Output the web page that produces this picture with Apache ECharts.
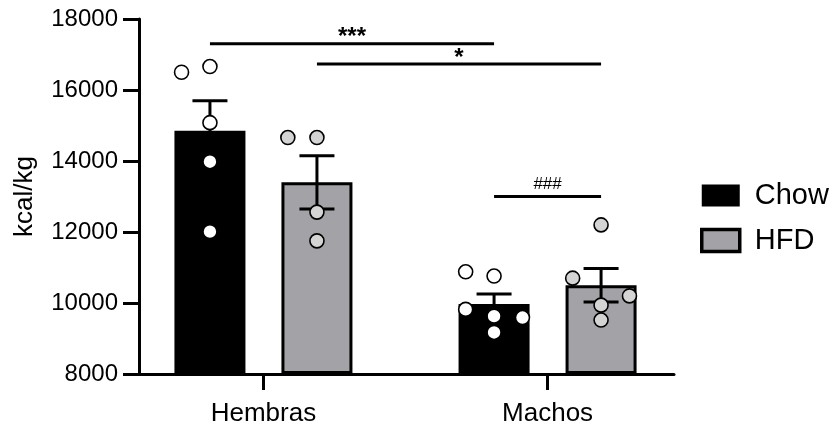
<!DOCTYPE html>
<html>
<head>
<meta charset="utf-8">
<script src="https://cdn.jsdelivr.net/npm/echarts@6/dist/echarts.min.js"></script>
<style>
  html, body { margin: 0; padding: 0; background: #fff; }
  #chart { width: 836px; height: 427px; }
</style>
</head>
<body>
<div id="chart"></div>
<script>
// Energy intake (kcal/kg) by sex and diet: mean ± SEM with individual animals
const categories = ['Hembras', 'Machos'];
const seriesNames = ['Chow', 'HFD'];

const chowMean = [14850, 9975];
const chowSem = [850, 280];
const hfdMean = [13400, 10500];
const hfdSem = [750, 470];

const chowPoints = [
  [16500, 16660, 15080, 13980, 12010],
  [10880, 10760, 9820, 9630, 9590, 9170]
];
const hfdPoints = [
  [14660, 14660, 12560, 11750],
  [12200, 10700, 10200, 9940, 9520]
];
// sideways spread of each dot, as a fraction of the bar width
const chowSpread = [
  [-0.4, 0, 0, 0, 0],
  [-0.4, 0, -0.4, 0, 0.4, 0]
];
const hfdSpread = [
  [-0.41, 0, 0, 0],
  [0, -0.4, 0.4, 0, 0]
];

const yMin = 8000, yMax = 18000, yStep = 2000;
const yTitle = 'kcal/kg';

// significance brackets: [category, series] at each end, height, mark
const brackets = [
  { from: [0, 0], to: [1, 0], y: 17300, text: '***' },
  { from: [0, 1], to: [1, 1], y: 16730, text: '*' },
  { from: [1, 0], to: [1, 1], y: 13000, text: '###' }
];

const FONT = "'Liberation Sans', Arial, Helvetica, sans-serif";
const BAR_W = 71;
const BAR_GAP = 36;
const PITCH = BAR_W + BAR_GAP;
const CAP = 35;
const colors = { Chow: '#000000', HFD: '#a3a3a7' };
const dotFill = { Chow: '#ffffff', HFD: '#d4d4d4' };

function barCenterX(api, cat, s, yv) {
  const c = api.coord([cat, yv]);
  return c[0] + (s - 0.5) * PITCH;
}

const barSeries = seriesNames.map((name, s) => ({
  name: name,
  type: 'bar',
  barWidth: BAR_W,
  barGap: (BAR_GAP / BAR_W * 100) + '%',
  z: 2,
  itemStyle: {
    color: colors[name],
    borderColor: '#000',
    borderWidth: 3
  },
  data: (s === 0 ? chowMean : hfdMean).map((v, i) => [i, v])
}));

const errData = [];
[chowMean, hfdMean].forEach((means, s) => {
  const sems = s === 0 ? chowSem : hfdSem;
  means.forEach((m, i) => errData.push([i, m, sems[i], s]));
});

const dotData = [];
[chowPoints, hfdPoints].forEach((groups, s) => {
  const spread = s === 0 ? chowSpread : hfdSpread;
  groups.forEach((vals, i) => {
    vals.forEach((v, k) => dotData.push([i, v, s, spread[i][k]]));
  });
});

const bracketData = brackets.map(b => [b.from[0], b.from[1], b.to[0], b.to[1], b.y, b.text]);

const option = {
  animation: false,
  backgroundColor: '#fff',
  textStyle: { fontFamily: FONT, color: '#000' },
  grid: { left: 139, right: 162, top: 19, bottom: 53, outerBoundsMode: 'none' },
  legend: {
    orient: 'vertical',
    left: 695,
    top: 176,
    itemWidth: 38,
    itemHeight: 22,
    itemGap: 16,
    icon: 'rect',
    selectedMode: false,
    textStyle: { fontSize: 29, color: '#000', fontFamily: FONT, padding: [0, 0, 0, 10] },
    data: [
      { name: 'Chow', itemStyle: { color: colors.Chow, borderWidth: 0 } },
      { name: 'HFD', itemStyle: { color: colors.HFD, borderColor: '#000', borderWidth: 3.5 } }
    ]
  },
  xAxis: {
    type: 'value',
    min: -0.438,
    max: 1.445,
    splitLine: { show: false },
    axisLine: { show: true, onZero: false, lineStyle: { color: '#000', width: 3 } },
    axisTick: { show: true, length: 16, customValues: [0, 1], lineStyle: { color: '#000', width: 3 } },
    axisLabel: {
      customValues: [0, 1],
      formatter: v => categories[Math.round(v)],
      fontSize: 26,
      color: '#000',
      fontFamily: FONT,
      margin: 27
    }
  },
  yAxis: {
    type: 'value',
    min: yMin,
    max: yMax,
    interval: yStep,
    startValue: yMin,
    name: yTitle,
    nameLocation: 'middle',
    nameGap: 101,
    nameTextStyle: { fontSize: 26, color: '#000', fontFamily: FONT },
    splitLine: { show: false },
    axisLine: { show: true, onZero: false, lineStyle: { color: '#000', width: 3 } },
    axisTick: { show: true, length: 16, lineStyle: { color: '#000', width: 3 } },
    axisLabel: {
      formatter: v => String(v),
      fontSize: 24,
      color: '#000',
      fontFamily: FONT,
      margin: 21
    }
  },
  series: [
    ...barSeries,
    {
      type: 'custom',
      name: 'sem',
      z: 3,
      clip: false,
      silent: true,
      data: errData,
      renderItem: (params, api) => {
        const cat = api.value(0), m = api.value(1), e = api.value(2), s = api.value(3);
        const x = barCenterX(api, cat, s, m);
        const top = api.coord([cat, m + e])[1];
        const bot = api.coord([cat, m - e])[1];
        const st = { stroke: '#000', lineWidth: 3 };
        return {
          type: 'group',
          children: [
            { type: 'line', shape: { x1: x, y1: top, x2: x, y2: bot }, style: st },
            { type: 'line', shape: { x1: x - CAP / 2, y1: top, x2: x + CAP / 2, y2: top }, style: st },
            { type: 'line', shape: { x1: x - CAP / 2, y1: bot, x2: x + CAP / 2, y2: bot }, style: st }
          ]
        };
      }
    },
    {
      type: 'custom',
      name: 'dots',
      z: 4,
      clip: false,
      silent: true,
      data: dotData,
      renderItem: (params, api) => {
        const cat = api.value(0), v = api.value(1), s = api.value(2), sp = api.value(3);
        const x = barCenterX(api, cat, s, v) + sp * BAR_W;
        const y = api.coord([cat, v])[1];
        return {
          type: 'circle',
          shape: { cx: x, cy: y, r: 7 },
          style: { fill: dotFill[seriesNames[s]], stroke: '#000', lineWidth: 1.6 }
        };
      }
    },
    {
      type: 'custom',
      name: 'brackets',
      z: 5,
      clip: false,
      silent: true,
      data: bracketData,
      renderItem: (params, api) => {
        const b = bracketData[params.dataIndex];
        const y = api.coord([0, b[4]])[1];
        const x1 = barCenterX(api, b[0], b[1], b[4]);
        const x2 = barCenterX(api, b[2], b[3], b[4]);
        const isHash = b[5].indexOf('#') >= 0;
        return {
          type: 'group',
          children: [
            { type: 'line', shape: { x1: x1, y1: y, x2: x2, y2: y }, style: { stroke: '#000', lineWidth: 3 } },
            {
              type: 'text',
              style: {
                x: (x1 + x2) / 2,
                y: isHash ? y - 12 : y - 6,
                text: b[5],
                fill: '#000',
                font: (isHash ? '17px ' : 'bold 24px ') + FONT,
                align: 'center',
                verticalAlign: 'middle'
              }
            }
          ]
        };
      }
    }
  ]
};

const chart = echarts.init(document.getElementById('chart'), null, { renderer: 'canvas' });
chart.setOption(option);
</script>
</body>
</html>
